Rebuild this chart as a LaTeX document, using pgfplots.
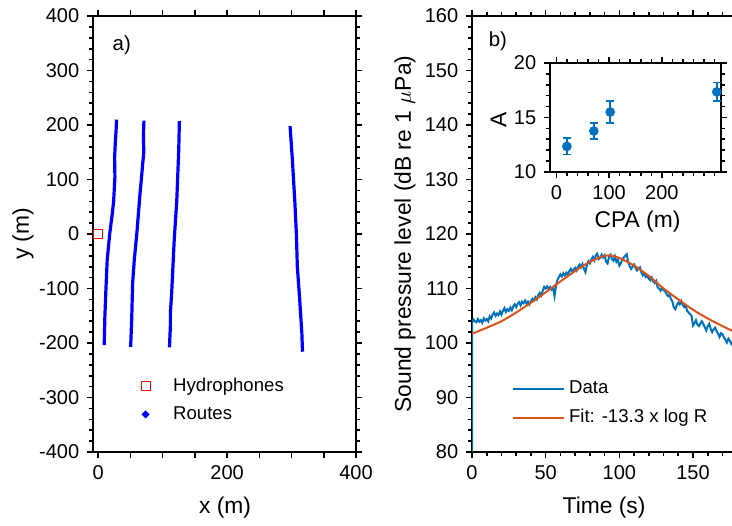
\documentclass[border=0pt]{standalone}
\usepackage{pgfplots}
\pgfplotsset{compat=1.18}
\usepackage{fontspec}
\setmainfont{Liberation Sans}
\definecolor{mblue}{rgb}{0,0.447,0.741}
\definecolor{morange}{rgb}{0.85,0.325,0.098}
\pgfplotsset{
  myax/.style={
    scale only axis,
    anchor=south west,
    line width=0.8pt,
    tick label style={font=\fontsize{10}{12}\selectfont},
    label style={font=\fontsize{11.4}{13}\selectfont},
    legend style={draw=none, fill=none, font=\fontsize{9.3}{11}\selectfont, inner sep=0pt, outer sep=0pt, row sep=2.2pt},
    legend cell align=left,
    /pgf/number format/assume math mode=true,
  }
}
\begin{document}
\begin{tikzpicture}
\useasboundingbox (0pt,0pt) rectangle (366pt,262.5pt);
% ---------------- left panel ----------------
\begin{axis}[myax,
  at={(46.5pt,36.5pt)}, width=131.5pt, height=218pt,
  tick align=outside, major tick length=3.2pt, minor tick length=1.9pt,
  tick style={black, line width=0.8pt},
  xmin=-8, xmax=400, ymin=-400, ymax=400,
  xtick={0,50,...,400}, xticklabels={0,,,,200,,,,400},
  ytick={-400,-300,...,400}, minor ytick={-380,-360,...,380},
  xlabel={x (m)}, ylabel={y (m)},
  xlabel style={at={(axis description cs:0.502,-0.1284)}, anchor=center},
  ylabel style={at={(axis description cs:-0.266,0.5)}, anchor=center, rotate=0},
  legend style={at={(axis cs:61.8,-304.6)}, anchor=west},
]
\addplot[red, only marks, mark=square, mark size=2.25pt, mark options={line width=0.5pt},
  legend image code/.code={\path (0pt,0pt) (14pt,0pt); \draw[red, line width=0.5pt] (0.75pt,-2.25pt) rectangle (5.25pt,2.25pt);}]
  coordinates {(0,0)};
\addlegendentry{Hydrophones}
\addplot[blue, line width=1.6pt,
  legend image code/.code={\path (0pt,0pt) (14pt,0pt); \fill[blue] (3pt,0pt) circle (0.9pt);}]
  coordinates {(28.6,210) (27.8,190) (26.5,165) (25.5,140) (26,105) (24,60) (22,38) (18,1) (14,-48) (12,-103) (10.4,-152) (9.4,-204)};
\addlegendentry{Routes}
\addplot[blue, line width=1.6pt, forget plot]
  coordinates {(71,208) (70.2,180) (70.8,150) (69,128) (67,100) (65,75) (60,1) (56,-48) (53.5,-90) (52,-158) (50.4,-207)};
\addplot[blue, line width=1.6pt, forget plot]
  coordinates {(126,207) (125,154) (122,62) (118,-11) (116,-60) (114,-109) (112,-146) (112,-170) (110.6,-208)};
\addplot[blue, line width=1.6pt, forget plot]
  coordinates {(297.7,198) (301,142) (305,62) (307.5,1) (309,-60) (312.7,-121) (316,-182) (317,-216)};
\node[anchor=west, inner sep=0pt, font=\fontsize{10.2}{12}\selectfont] at (axis cs:21.3,346.8) {a)};
\end{axis}
% ---------------- right panel ----------------
\begin{axis}[myax,
  at={(236pt,36.5pt)}, width=132.6pt, height=218pt,
  tick align=outside, major tick length=3.2pt, minor tick length=1.9pt,
  tick style={black, line width=0.8pt},
  xmin=0, xmax=180, ymin=80, ymax=160,
  xtick={0,50,...,150}, minor xtick={10,20,30,40,60,70,80,90,110,120,130,140,160,170},
  ytick={80,90,...,160}, minor ytick={82,84,...,158},
  xlabel={Time (s)}, ylabel={Sound pressure level (dB re 1 $\mu$Pa)},
  xlabel style={at={(axis description cs:0.498,-0.1284)}, anchor=center},
  ylabel style={at={(axis description cs:-0.2526,0.5)}, anchor=center, rotate=0},
  legend style={at={(axis cs:27.2,88.9)}, anchor=west},
  clip=true,
]
\addplot[mblue, line width=1pt,
  legend image code/.code={\draw[mblue, line width=1pt] (0pt,0pt) -- (25.5pt,0pt);}]
  coordinates {
(0,80) (0,103.6) (1,104.3) (2,104.0) (3,103.8) (4,104.4) (5,103.9) (6,104.2) (7,103.7) (8,104.5) (9,104.1)
(10,104.4) (11,104.0) (12,104.9) (13,104.5) (14,105.2) (15,105.6) (16,105.0) (17,105.4) (18,105.1) (19,105.8)
(20,105.2) (21,105.9) (22,106.4) (23,105.7) (24,106.2) (25,105.9) (26,106.5) (27,106.0) (28,106.7) (29,107.1)
(30,106.6) (31,107.2) (32,107.5) (33,106.9) (34,107.6) (35,107.3) (36,107.8) (37,107.2) (38,107.6) (39,107.1)
(40,107.7) (41,108.1) (42,107.8) (43,108.4) (44,108.0) (45,108.8) (46,109.2) (47,108.7) (48,109.6) (49,110.3)
(50,110.0) (51,110.4) (52,109.9) (53,110.3) (54,109.8) (55,110.2) (56,108.6) (57,110.5) (58,111.6) (59,112.1)
(60,112.6) (61,112.2) (62,112.8) (63,112.4) (64,112.9) (65,112.5) (66,113.2) (67,113.6) (68,113.0) (69,113.5)
(70,113.8) (71,113.3) (72,114.0) (73,114.4) (74,113.9) (75,114.5) (76,113.6) (77,113.0) (78,114.3) (79,115.0)
(80,114.6) (81,115.3) (82,115.8) (83,115.2) (84,116.1) (85,116.4) (86,115.4) (87,115.6) (88,116.2) (89,115.7)
(90,116.1) (91,114.9) (92,114.6) (93,115.8) (94,116.2) (95,115.4) (96,115.1) (97,115.9) (98,114.9) (99,115.3)
(100,114.2) (101,114.6) (102,115.3) (103,115.7) (104,116.0) (105,116.3) (106,114.8) (107,114.1) (108,113.6) (109,114.0)
(110,114.4) (111,113.8) (112,113.3) (113,113.7) (114,113.9) (115,112.9) (116,112.4) (117,112.7) (118,112.1) (119,112.3)
(120,111.8) (121,111.5) (122,112.0) (123,111.3) (124,111.0) (125,111.4) (126,110.2) (127,110.0) (128,109.6) (129,110.1)
(130,109.7) (131,109.5) (132,109.0) (133,108.6) (134,108.8) (135,108.1) (136,107.6) (137,106.5) (138,106.2) (139,107.0)
(140,107.4) (141,107.1) (142,107.7) (143,107.0) (144,106.6) (145,106.9) (146,105.9) (147,105.6) (148,105.3) (149,105.0)
(150,103.2) (151,103.6) (152,104.2) (153,103.4) (154,103.1) (155,103.6) (156,104.0) (157,103.5) (158,102.9) (159,102.3)
(160,103.1) (161,103.5) (162,102.6) (163,102.0) (164,102.5) (165,102.8) (166,102.2) (167,101.7) (168,101.1) (169,101.8)
(170,101.6) (171,101.0) (172,100.6) (173,100.1) (174,100.8) (175,100.4) (176,99.8) (177,100.1) (178,99.7)
  };
\addlegendentry{Data}
\addplot[morange, line width=1pt, smooth,
  legend image code/.code={\draw[morange, line width=1pt] (0pt,0pt) -- (25.5pt,0pt);}]
  coordinates {
(0,101.7) (10,102.8) (20,104.0) (30,105.6) (40,107.4) (50,109.3) (60,111.3) (70,113.2) (80,114.9) (90,116.0)
(95,116.0) (100,115.6) (110,114.2) (120,112.3) (130,110.0) (140,108.0) (150,106.1) (160,104.5) (170,103.1) (180,101.8)
  };
\addlegendentry{Fit: -13.3 x log R}
\node[anchor=west, inner sep=0pt, font=\fontsize{10.2}{12}\selectfont] at (axis cs:10.9,155.3) {b)};
\end{axis}
% ---------------- inset ----------------
\begin{axis}[myax,
  at={(275pt,176.5pt)}, width=85.5pt, height=54.5pt,
  tick align=outside, major tick length=3.2pt, minor tick length=1.9pt,
  tick style={black, line width=0.8pt},
  xmin=-12, xmax=312, ymin=10, ymax=20,
  xtick={0,100,200}, minor xtick={20,40,60,80,120,140,160,180,220,240,260,280,300},
  ytick={10,15,20}, minor ytick={11,12,13,14,16,17,18,19},
  xlabel={CPA (m)}, ylabel={A},
  xlabel style={at={(axis description cs:0.512,-0.454)}, anchor=center},
  ylabel style={at={(axis description cs:-0.301,0.477)}, anchor=center, rotate=0},
  axis background/.style={fill=white},
  clip=false,
]
\addplot[mblue, only marks, mark=*, mark size=2pt,
  error bars/.cd, y dir=both, y explicit,
  error bar style={line width=0.8pt, mblue},
  error mark options={rotate=90, mark size=2pt, line width=0.8pt, mblue}]
  coordinates {(20,12.35) +- (0,0.75) (71,13.76) +- (0,0.75) (102,15.5) +- (0,1.0) (304,17.35) +- (0,0.85)};
\end{axis}
\end{tikzpicture}
\end{document}
